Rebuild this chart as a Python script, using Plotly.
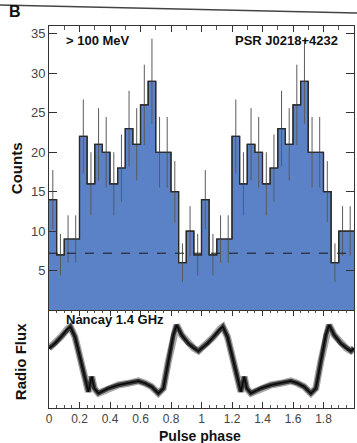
import numpy as np
import plotly.graph_objects as go

# ---------------- data ----------------
bin_width = 0.05
counts = [14, 7, 9, 9, 22, 16, 21, 20, 16, 18, 23, 21, 26, 29, 20, 20, 15, 6, 10, 7,
          14, 7, 9, 9, 22, 16, 21, 20, 16, 18, 23, 21, 26, 29, 20, 20, 15, 6, 10, 10]
background_level = 7.2

radio_phase = [0.00, 0.04, 0.08, 0.12, 0.14, 0.17, 0.20, 0.23, 0.258, 0.28, 0.297,
               0.324, 0.39, 0.455, 0.52, 0.586, 0.63, 0.673, 0.717, 0.75, 0.782,
               0.815, 0.837, 0.87, 0.913, 0.95, 0.98]
radio_flux = [58.7, 63.7, 70.3, 78.0, 80.3, 70.3, 52.0, 34.0, 15.3, 30.3, 18.7,
              13.7, 18.7, 22.0, 23.7, 26.0, 23.7, 20.3, 13.7, 18.7, 45.3,
              72.0, 82.0, 72.0, 63.7, 58.7, 56.0]

x_tickvals = [0, 0.2, 0.4, 0.6, 0.8, 1, 1.2, 1.4, 1.6, 1.8, 2]
y_tickvals = [5, 10, 15, 20, 25, 30, 35]

# ---------------- derived ----------------
n = len(counts)
edges = [i * bin_width for i in range(n + 1)]
centers = [(i + 0.5) * bin_width for i in range(n)]
errors = list(np.sqrt(counts))
step_y = counts + [counts[-1]]

rx = radio_phase + [p + 1 for p in radio_phase] + [2.0]
ry = radio_flux + radio_flux + [radio_flux[0]]

FILL = "#5b82c6"
FONT = "Liberation Sans, Arial, sans-serif"

fig = go.Figure()

# histogram fill + outline
fig.add_trace(go.Scatter(x=edges, y=step_y, mode="lines", line=dict(shape="hv", color="#2a2a2a", width=1.2),
                         fill="tozeroy", fillcolor=FILL, xaxis="x2", yaxis="y2", showlegend=False))
# error bars
fig.add_trace(go.Scatter(x=centers, y=counts, mode="markers", marker=dict(size=1, color="rgba(0,0,0,0)"),
                         error_y=dict(type="data", array=errors, visible=True, width=0, thickness=1, color="#5a5a5a"),
                         xaxis="x2", yaxis="y2", showlegend=False))
# background dashed line
fig.add_trace(go.Scatter(x=[0, 2], y=[background_level, background_level], mode="lines",
                         line=dict(color="#1a1a1a", width=1, dash="dash"), xaxis="x2", yaxis="y2", showlegend=False))
# outline again above error bars
fig.add_trace(go.Scatter(x=edges, y=step_y, mode="lines", line=dict(shape="hv", color="#2a2a2a", width=1.2),
                         xaxis="x2", yaxis="y2", showlegend=False))

# radio profile (noise halo + core)
for col, w in [("#a8a8a8", 7), ("#3a3a3a", 4.5), ("#0a0a0a", 1.6)]:
    fig.add_trace(go.Scatter(x=rx, y=ry, mode="lines", line=dict(color=col, width=w),
                             xaxis="x", yaxis="y", showlegend=False))

bottom_h = 0.2565
axis_common = dict(showline=True, linecolor="#333", linewidth=1, showgrid=False, zeroline=False)

fig.update_layout(
    width=357, height=443,
    margin=dict(l=49, r=3, t=26, b=35),
    paper_bgcolor="white", plot_bgcolor="white",
    font=dict(family=FONT, size=13, color="#444"),
    xaxis=dict(domain=[0, 1], range=[0, 2], anchor="y", tickvals=x_tickvals, ticks="inside", ticklen=6,
               tickcolor="#333", mirror="ticks",
               minor=dict(dtick=0.05, ticks="inside", ticklen=3, tickcolor="#555"),
               tickfont=dict(size=12, color="#444"), **axis_common),
    yaxis=dict(domain=[0, bottom_h], range=[-1, 97], anchor="x", showticklabels=False, ticks="",
               mirror=True, **axis_common),
    xaxis2=dict(domain=[0, 1], range=[0, 2], anchor="y2", side="top", showticklabels=False,
                tickvals=x_tickvals, ticks="inside", ticklen=6, tickcolor="#333", mirror=True,
                minor=dict(dtick=0.1, ticks="inside", ticklen=4, tickcolor="#555"), **axis_common),
    yaxis2=dict(domain=[bottom_h, 1], range=[0, 36], anchor="x2", tickvals=y_tickvals, ticks="inside",
                ticklen=8, tickcolor="#333", mirror="ticks", tickfont=dict(size=13, color="#444"), **axis_common),
)

ann = dict(showarrow=False, font=dict(family=FONT, size=13, color="#111"))
fig.add_annotation(text="<b>&gt; 100 MeV</b>", xref="paper", yref="paper", x=0.049, y=0.961,
                   xanchor="left", yanchor="middle", **ann)
fig.add_annotation(text="<b>PSR J0218+4232</b>", xref="paper", yref="paper", x=0.954, y=0.961,
                   xanchor="right", yanchor="middle", **ann)
fig.add_annotation(text="<b>Nancay 1.4 GHz</b>", xref="paper", yref="paper", x=0.049, y=0.232,
                   xanchor="left", yanchor="middle", **ann)
fig.add_annotation(text="<b>Counts</b>", xref="paper", yref="paper", x=-0.108, y=0.628, textangle=-90,
                   xanchor="center", yanchor="middle", showarrow=False,
                   font=dict(family=FONT, size=15, color="#111"))
fig.add_annotation(text="<b>Radio Flux</b>", xref="paper", yref="paper", x=-0.095, y=0.12, textangle=-90,
                   xanchor="center", yanchor="middle", showarrow=False,
                   font=dict(family=FONT, size=15, color="#111"))
fig.add_annotation(text="<b>Pulse phase</b>", xref="paper", yref="paper", x=0.495, y=-0.072,
                   xanchor="center", yanchor="middle", showarrow=False,
                   font=dict(family=FONT, size=14, color="#111"))
fig.add_annotation(text="<b>B</b>", xref="paper", yref="paper", x=-0.111, y=1.037,
                   xanchor="center", yanchor="middle", showarrow=False,
                   font=dict(family=FONT, size=16, color="#111"))
fig.add_shape(type="line", xref="paper", yref="paper", x0=-0.1607, y0=1.055, x1=1.0098, y1=1.034,
              line=dict(color="#444", width=1.5))

fig.write_html("out.html")
